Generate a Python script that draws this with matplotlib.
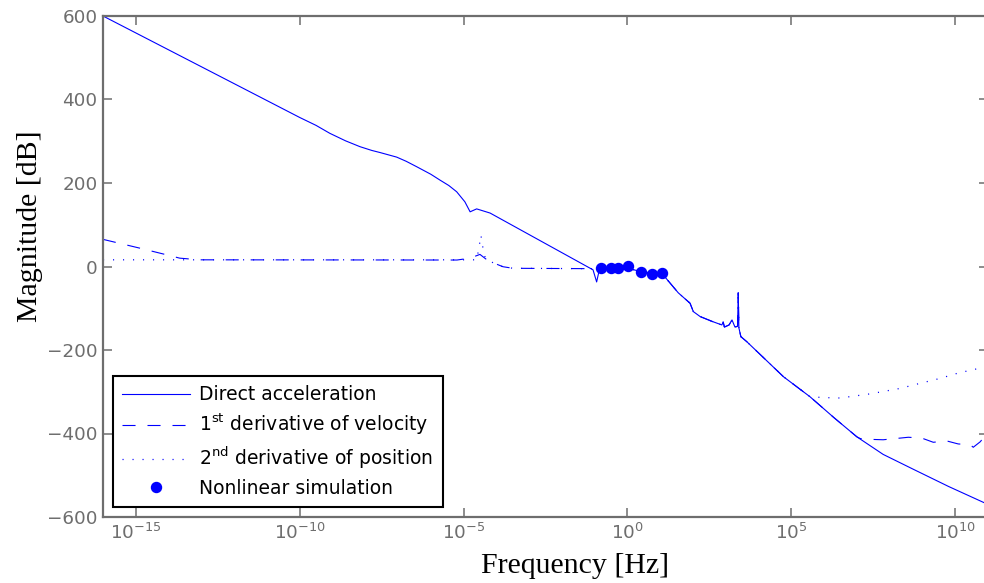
import numpy as np
import matplotlib
matplotlib.use("Agg")
import matplotlib.pyplot as plt
from matplotlib.ticker import LogFormatterSciNotation, NullLocator

plt.rcParams['font.family'] = ['DejaVu Sans']
plt.rcParams['mathtext.default'] = 'regular'
plt.rcParams['lines.scale_dashes'] = False

# frequencies are stored as log10 exponents, magnitudes in dB
acc_exp = [-16, -10.0, -9.5, -9.08, -8.6, -8.16, -7.8, -7.55, -7.04, -6.75, -6.43, -6.0,
           -5.72, -5.45, -5.21, -4.96, -4.80, -4.60, -4.19, -1.05, -0.94, -0.85, -0.5,
           0.0, 0.4, 0.75, 1.09, 1.55, 1.91, 2.01, 2.22, 2.6, 2.88, 2.92, 2.96, 3.1,
           3.19, 3.28, 3.36, 3.38, 3.40, 3.46, 3.64, 4.2, 4.76, 5.57, 6.3, 7.0, 7.8,
           8.73, 9.8, 10.89]
acc_db = [600, 357, 338, 319, 301, 287, 278, 273, 262, 252, 239, 221,
          207, 194, 179, 155, 131, 138, 128, -8, -37, -5, -5,
          -4, -12, -16, -20, -63, -88, -108, -120, -132, -140, -133, -145, -140,
          -128, -145, -143, -63, -147, -168, -180, -222, -264, -312, -362, -408, -450,
          -486, -527, -566]

vel_exp = [-16, -14.88, -14.06, -13.66, -13.05, -5.2, -4.8, -4.5, -4.32, -4.1, -3.8,
           -3.49, -1.05, -0.85, -0.5, 0.0, 0.4, 0.75, 1.09, 1.55, 1.91, 2.01, 2.22,
           2.6, 2.88, 2.92, 2.96, 3.1, 3.19, 3.28, 3.36, 3.38, 3.40, 3.46, 3.64, 4.2,
           4.76, 5.57, 6.3, 7.0, 7.1, 7.4, 7.8, 8.32, 8.57, 8.98, 9.33, 9.75, 10.09,
           10.46, 10.55, 10.76, 10.89]
vel_db = [65, 44, 28, 20, 16, 15.5, 20, 29, 18, 9, -0.5,
          -4.3, -5.2, -5, -5, -4, -12, -16, -20, -63, -88, -108, -120,
          -132, -140, -133, -145, -140, -128, -145, -143, -63, -147, -168, -180, -222,
          -264, -312, -362, -408, -412, -414, -415, -411, -409, -411, -421, -418, -425,
          -427, -433, -420, -408]

pos_exp = [-16, -4.6, -4.53, -4.47, -4.38, -4.32, -4.1, -3.8, -3.49, -1.05, -0.85,
           -0.5, 0.0, 0.4, 0.75, 1.09, 1.55, 1.91, 2.01, 2.22, 2.6, 2.88, 2.92, 2.96,
           3.1, 3.19, 3.28, 3.36, 3.38, 3.40, 3.46, 3.64, 4.2, 4.76, 5.57, 6.0, 6.49,
           7.41, 8.32, 8.87, 9.54, 10.1, 10.67, 10.89]
pos_db = [16, 16, 45, 75, 30, 18, 9, -0.5, -4.3, -5.2, -5,
          -5, -4, -12, -16, -20, -63, -88, -108, -120, -132, -140, -133, -145,
          -140, -128, -145, -143, -63, -147, -168, -180, -222, -264, -312, -314, -315,
          -305, -292, -281, -268, -255, -245, -240]

sim_exp = [-0.815, -0.51, -0.277, 0.028, 0.41, 0.745, 1.05]
sim_db = [-4.3, -4.3, -4.3, 1.2, -13.9, -17.9, -16.2]

xticks = [1e-15, 1e-10, 1e-5, 1e0, 1e5, 1e10]
yticks = [-600, -400, -200, 0, 200, 400, 600]

blue = '#0000ff'
gray = '#6e6e6e'

fig = plt.figure(figsize=(9.84, 5.83), dpi=100)
ax = fig.add_axes([103/984, 66/583, 885/984, 501/583])

ax.semilogx(10.0**np.array(acc_exp), acc_db, color=blue, lw=0.8, ls='-',
            label='Direct acceleration')
ax.semilogx(10.0**np.array(vel_exp), vel_db, color=blue, lw=0.8, ls=(0, (9.4, 8.6)),
            label='1$^{st}$ derivative of velocity')
ax.semilogx(10.0**np.array(pos_exp), pos_db, color=blue, lw=0.9, ls=(0, (0.8, 6.4)),
            label='2$^{nd}$ derivative of position')
ax.semilogx(10.0**np.array(sim_exp), sim_db, 'o', color=blue, ms=7.2,
            label='Nonlinear simulation')

ax.set_xlim(1e-16, 1e11)
ax.set_ylim(-600, 600)
ax.set_xticks(xticks)
ax.xaxis.set_major_formatter(LogFormatterSciNotation())
ax.xaxis.set_minor_locator(NullLocator())
ax.set_yticks(yticks)

for s in ax.spines.values():
    s.set_color(gray)
    s.set_linewidth(1.6)
ax.tick_params(which='both', direction='in', top=True, right=True, length=6.5,
               width=1.1, colors=gray, labelsize=13.2)
ax.tick_params(axis='x', pad=4)
ax.tick_params(axis='y', pad=4)

ax.set_xlabel('Frequency [Hz]', family='Liberation Serif', fontsize=21.5, color='black')
ax.set_ylabel('Magnitude [dB]', family='Liberation Serif', fontsize=21.5, color='black')
ax.xaxis.set_label_coords(0.533, -0.071)
ax.yaxis.set_label_coords(-0.068, 0.58)

leg = ax.legend(loc='lower left', bbox_to_anchor=(0.0113, 0.02), borderaxespad=0,
                fontsize=13.5, frameon=True, fancybox=False, handlelength=3.6,
                handletextpad=0.5, labelspacing=0.4, borderpad=0.5)
leg.get_frame().set_edgecolor('black')
leg.get_frame().set_linewidth(1.5)
leg.get_frame().set_alpha(1)

fig.savefig('out.png', dpi=100)
